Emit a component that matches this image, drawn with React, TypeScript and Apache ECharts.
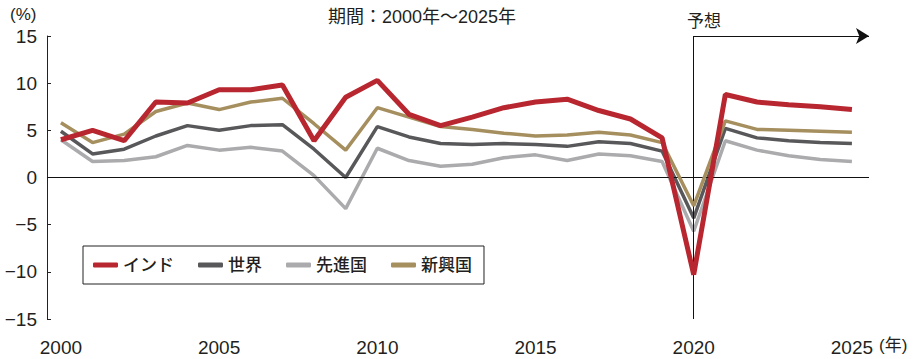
import React, { useEffect, useRef } from "react";
import * as echarts from "echarts";

const years = [2000, 2001, 2002, 2003, 2004, 2005, 2006, 2007, 2008, 2009, 2010, 2011, 2012, 2013, 2014, 2015, 2016, 2017, 2018, 2019, 2020, 2021, 2022, 2023, 2024, 2025];
const india = [4.0, 5.0, 3.9, 8.0, 7.9, 9.3, 9.3, 9.8, 3.9, 8.5, 10.3, 6.7, 5.5, 6.4, 7.4, 8.0, 8.3, 7.1, 6.2, 4.2, -10.3, 8.8, 8.0, 7.7, 7.5, 7.2];
const world = [4.9, 2.5, 3.0, 4.4, 5.5, 5.0, 5.5, 5.6, 3.0, 0.0, 5.4, 4.3, 3.6, 3.5, 3.6, 3.5, 3.3, 3.8, 3.6, 2.8, -4.3, 5.2, 4.2, 3.9, 3.7, 3.6];
const advanced = [4.0, 1.7, 1.8, 2.2, 3.4, 2.9, 3.2, 2.8, 0.2, -3.3, 3.1, 1.8, 1.2, 1.4, 2.1, 2.4, 1.8, 2.5, 2.3, 1.7, -5.7, 3.9, 2.9, 2.3, 1.9, 1.7];
const emerging = [5.8, 3.7, 4.6, 7.0, 7.9, 7.2, 8.0, 8.4, 5.7, 2.9, 7.4, 6.4, 5.4, 5.1, 4.7, 4.4, 4.5, 4.8, 4.5, 3.7, -3.0, 6.0, 5.1, 5.0, 4.9, 4.8];
const xTickLabels = [2000, 2005, 2010, 2015, 2020, 2025];
const seriesNames = ["インド", "世界", "先進国", "新興国"];
const forecastStart = 2020;

const FONT = "'Liberation Sans', 'Noto Sans CJK JP', sans-serif";
const TEXT = "#231f20";

export default function App() {
  const ref = useRef<HTMLDivElement>(null);
  useEffect(() => {
    document.body.style.margin = "0";
    if (!ref.current) return;
    const chart = echarts.init(ref.current, undefined, { renderer: "svg" });
    const pair = (arr: number[]) => years.map((y, i) => [y, arr[i]]);
    chart.setOption({
      animation: false,
      textStyle: { fontFamily: FONT, color: TEXT },
      title: {
        text: "期間：2000年～2025年",
        left: 323,
        top: 3,
        textStyle: { fontSize: 18, fontWeight: "normal", color: TEXT, fontFamily: FONT },
      },
      grid: { left: 47, right: 46, top: 36, bottom: 40 },
      legend: {
        data: seriesNames,
        left: 83,
        top: 246,
        padding: [9, 12, 9, 10],
        borderColor: "#222",
        borderWidth: 1,
        itemGap: 24,
        itemWidth: 25,
        itemHeight: 5,
        icon: "roundRect",
        textStyle: { fontSize: 17, fontWeight: 500, color: TEXT, fontFamily: FONT, lineHeight: 20 },
      },
      xAxis: {
        type: "value",
        min: 1999.56,
        max: 2025.54,
        axisLine: { show: false },
        axisTick: { show: false },
        splitLine: { show: false },
        axisLabel: {
          customValues: xTickLabels,
          formatter: (v: number) => String(v),
          fontSize: 19,
          color: TEXT,
          margin: 19,
          fontFamily: FONT,
        },
      },
      yAxis: {
        type: "value",
        min: -15,
        max: 15,
        interval: 5,
        axisLine: { show: true, lineStyle: { color: "#222", width: 1 } },
        axisTick: { show: true, inside: true, length: 4, lineStyle: { color: "#222" } },
        splitLine: { show: false },
        axisLabel: {
          fontSize: 19,
          color: TEXT,
          margin: 10,
          fontFamily: FONT,
          formatter: (v: number) => String(v).replace("-", "−"),
        },
      },
      graphic: [
        { type: "text", left: 10, top: 6, style: { text: "(%)", fontSize: 17, fill: TEXT, fontFamily: FONT } },
        { type: "text", left: 879, top: 337, style: { text: "(年)", fontSize: 17, fill: TEXT, fontFamily: FONT } },
        { type: "text", left: 687, top: 13, style: { text: "予想", fontSize: 17, fill: TEXT, fontFamily: FONT } },
      ],
      series: [
        {
          name: "インド",
          type: "line",
          data: pair(india),
          symbol: "none",
          z: 6,
          color: "#b8262f",
          lineStyle: { width: 5, color: "#b8262f" },
        },
        {
          name: "世界",
          type: "line",
          data: pair(world),
          symbol: "none",
          z: 4,
          color: "#58585a",
          lineStyle: { width: 3.5, color: "#58585a" },
        },
        {
          name: "先進国",
          type: "line",
          data: pair(advanced),
          symbol: "none",
          z: 3,
          color: "#ababad",
          lineStyle: { width: 3.5, color: "#ababad" },
        },
        {
          name: "新興国",
          type: "line",
          data: pair(emerging),
          symbol: "none",
          z: 5,
          color: "#a68f5f",
          lineStyle: { width: 3.5, color: "#a68f5f" },
        },
        {
          name: "refs",
          type: "line",
          data: [],
          z: 2,
          markLine: {
            silent: true,
            animation: false,
            label: { show: false },
            lineStyle: { color: "#111", width: 1, type: "solid" },
            data: [
              [{ coord: [1999.56, 0], symbol: "none" }, { coord: [2025.54, 0], symbol: "none" }],
              [{ coord: [forecastStart, -15], symbol: "none" }, { coord: [forecastStart, 15], symbol: "none" }],
              [{ coord: [forecastStart, 15], symbol: "none" }, { coord: [2025.54, 15], symbol: "arrow", symbolSize: [12, 13] }],
            ],
          },
        },
      ],
    });
    return () => chart.dispose();
  }, []);
  return <div ref={ref} style={{ width: 915, height: 359 }} />;
}
